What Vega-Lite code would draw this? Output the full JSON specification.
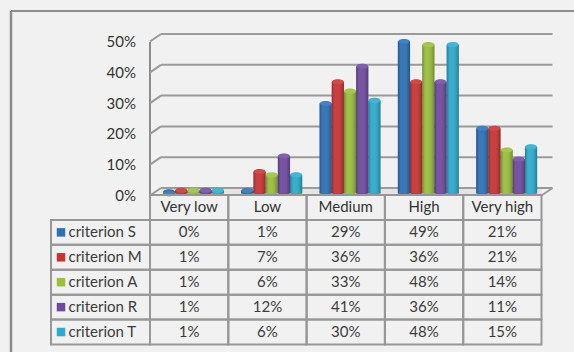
{
  "$schema": "https://vega.github.io/schema/vega-lite/v6.json",
  "width": 563,
  "height": 341,
  "autosize": "none",
  "padding": {"left": 11, "top": 11, "right": 0, "bottom": 0},
  "background": "#f1f1f1",
  "config": {"view": {"stroke": null}, "font": "Lato", "text": {"font": "Lato"}},
  "datasets": {
    "box": [{"part": "plot box"}],
    "ticks": [{"v": 0}, {"v": 0.1}, {"v": 0.2}, {"v": 0.3}, {"v": 0.4}, {"v": 0.5}],
    "levels": [{"level": "Very low"}, {"level": "Low"}, {"level": "Medium"}, {"level": "High"}, {"level": "Very high"}],
    "criteria": [{"criterion": "criterion S"}, {"criterion": "criterion M"}, {"criterion": "criterion A"}, {"criterion": "criterion R"}, {"criterion": "criterion T"}],
    "scores": [
      {"criterion": "criterion S", "level": "Very low", "share": 0},
      {"criterion": "criterion S", "level": "Low", "share": 0.01},
      {"criterion": "criterion S", "level": "Medium", "share": 0.29},
      {"criterion": "criterion S", "level": "High", "share": 0.49},
      {"criterion": "criterion S", "level": "Very high", "share": 0.21},
      {"criterion": "criterion M", "level": "Very low", "share": 0.01},
      {"criterion": "criterion M", "level": "Low", "share": 0.07},
      {"criterion": "criterion M", "level": "Medium", "share": 0.36},
      {"criterion": "criterion M", "level": "High", "share": 0.36},
      {"criterion": "criterion M", "level": "Very high", "share": 0.21},
      {"criterion": "criterion A", "level": "Very low", "share": 0.01},
      {"criterion": "criterion A", "level": "Low", "share": 0.06},
      {"criterion": "criterion A", "level": "Medium", "share": 0.33},
      {"criterion": "criterion A", "level": "High", "share": 0.48},
      {"criterion": "criterion A", "level": "Very high", "share": 0.14},
      {"criterion": "criterion R", "level": "Very low", "share": 0.01},
      {"criterion": "criterion R", "level": "Low", "share": 0.12},
      {"criterion": "criterion R", "level": "Medium", "share": 0.41},
      {"criterion": "criterion R", "level": "High", "share": 0.36},
      {"criterion": "criterion R", "level": "Very high", "share": 0.11},
      {"criterion": "criterion T", "level": "Very low", "share": 0.01},
      {"criterion": "criterion T", "level": "Low", "share": 0.06},
      {"criterion": "criterion T", "level": "Medium", "share": 0.30},
      {"criterion": "criterion T", "level": "High", "share": 0.48},
      {"criterion": "criterion T", "level": "Very high", "share": 0.15}
    ]
  },
  "resolve": {"scale": {"x": "independent", "y": "independent"}, "axis": {"x": "independent", "y": "independent"}},
  "layer": [
    {
      "description": "Frame along the top and left edges",
      "data": {"name": "box"},
      "layer": [
        {
          "mark": {"type": "rule", "color": "#8c8c8c", "strokeWidth": 2.5},
          "encoding": {
            "x": {"datum": 0, "type": "quantitative", "scale": {"domain": [0, 1], "range": [0, 563]}, "axis": null},
            "x2": {"datum": 0},
            "y": {"datum": 0, "type": "quantitative", "scale": {"domain": [0, 1], "range": [0, 341]}, "axis": null},
            "y2": {"datum": 1}
          }
        },
        {
          "mark": {"type": "rule", "color": "#8c8c8c", "strokeWidth": 2},
          "encoding": {
            "x": {"datum": 0, "type": "quantitative", "axis": null},
            "x2": {"datum": 1},
            "y": {"datum": 0, "type": "quantitative", "axis": null},
            "y2": {"datum": 0}
          }
        }
      ]
    },
    {
      "description": "Floor and walls of the plot box",
      "data": {"name": "box"},
      "layer": [
        {
          "mark": {"type": "rect", "fill": "#e4e4e4", "xOffset": 11},
          "encoding": {
            "x": {"datum": 0, "type": "quantitative", "scale": {"domain": [0, 5], "range": [139, 530.5]}, "axis": null},
            "x2": {"datum": 5},
            "y": {"datum": 0, "type": "quantitative", "scale": {"domain": [0, 0.5], "range": [184.5, 30.5]}, "axis": {"format": ".0%", "values": [0, 0.1, 0.2, 0.3, 0.4, 0.5], "offset": -138.5, "grid": false, "ticks": false, "domainColor": "#8c8c8c", "domainWidth": 2, "labelFontSize": 15, "labelColor": "#333333", "labelFont": "Lato", "labelPadding": 14, "title": null}},
            "y2": {"datum": 0.024}
          }
        },
        {
          "data": {"name": "ticks"},
          "mark": {"type": "rule", "color": "#9a9a9a", "strokeWidth": 2, "xOffset": 11, "yOffset": -7.5, "x2Offset": 11, "y2Offset": -7.5},
          "encoding": {"x": {"datum": 0, "type": "quantitative"}, "x2": {"datum": 5}, "y": {"field": "v", "type": "quantitative"}}
        },
        {
          "data": {"name": "ticks"},
          "mark": {"type": "rule", "color": "#9a9a9a", "strokeWidth": 2, "x2Offset": 11, "y2Offset": -7.5},
          "encoding": {"x": {"datum": 0, "type": "quantitative"}, "x2": {"datum": 0}, "y": {"field": "v", "type": "quantitative"}, "y2": {"field": "v"}}
        },
        {
          "mark": {"type": "rule", "color": "#9a9a9a", "strokeWidth": 2, "x2Offset": 11, "y2Offset": -7.5},
          "encoding": {"x": {"datum": 5, "type": "quantitative"}, "x2": {"datum": 5}, "y": {"datum": 0, "type": "quantitative"}, "y2": {"datum": 0}}
        }
      ]
    },
    {
      "description": "Cylinder columns: a shaft with an ellipse at each end, shaded by translucent gradients",
      "data": {"name": "scores"},
      "encoding": {
        "x": {"field": "level", "type": "nominal", "sort": null, "axis": null, "scale": {"domain": ["Very low", "Low", "Medium", "High", "Very high"], "range": [143.3, 534.8], "paddingInner": 0, "paddingOuter": 0}},
        "xOffset": {"field": "criterion", "type": "nominal", "scale": {"domain": ["criterion S", "criterion M", "criterion A", "criterion R", "criterion T"], "paddingInner": 0, "paddingOuter": 0.71}}
      },
      "layer": [
        {
          "mark": {"type": "point", "filled": true, "opacity": 1, "size": 144, "yOffset": -1.5, "shape": "M-1,0A1,0.45 0 1 1 1,0A1,0.45 0 1 1 -1,0Z"},
          "encoding": {
            "y": {"datum": 0, "type": "quantitative", "scale": {"domain": [0, 0.5], "range": [182.5, 27.5]}, "axis": null},
            "color": {"field": "criterion", "type": "nominal", "legend": null, "scale": {"domain": ["criterion S", "criterion M", "criterion A", "criterion R", "criterion T"], "range": ["#2c70b8", "#c93332", "#9abf3b", "#7049a0", "#2bacce"]}}
          }
        },
        {
          "mark": {"type": "bar", "y2Offset": -1.5},
          "encoding": {
            "y": {"field": "share", "type": "quantitative", "axis": null},
            "color": {"field": "criterion", "type": "nominal", "legend": null}
          }
        },
        {
          "mark": {"type": "bar", "y2Offset": -1.5, "fill": {"gradient": "linear", "x1": 0, "x2": 1, "y1": 0, "y2": 0, "stops": [{"offset": 0, "color": "rgba(0,0,0,0.3)"}, {"offset": 0.38, "color": "rgba(255,255,255,0.04)"}, {"offset": 1, "color": "rgba(0,0,0,0.28)"}]}},
          "encoding": {"y": {"field": "share", "type": "quantitative", "axis": null}}
        },
        {
          "mark": {"type": "point", "filled": true, "opacity": 1, "size": 144, "shape": "M-1,0A1,0.45 0 1 1 1,0A1,0.45 0 1 1 -1,0Z"},
          "encoding": {
            "y": {"field": "share", "type": "quantitative", "axis": null},
            "color": {"field": "criterion", "type": "nominal", "legend": null}
          }
        },
        {
          "mark": {"type": "point", "filled": true, "opacity": 0.12, "size": 120, "color": "#ffffff", "shape": "M-1,0A1,0.45 0 1 1 1,0A1,0.45 0 1 1 -1,0Z"},
          "encoding": {"y": {"field": "share", "type": "quantitative", "axis": null}}
        }
      ]
    },
    {
      "description": "Data table under the columns",
      "encoding": {
        "x": {"field": "level", "type": "nominal", "sort": null, "axis": null, "scale": {"domain": ["Very low", "Low", "Medium", "High", "Very high"], "range": [139, 530.5], "paddingInner": 0, "paddingOuter": 0}}
      },
      "layer": [
        {
          "data": {"name": "scores"},
          "mark": {"type": "rect", "fill": null, "stroke": "#979797", "strokeWidth": 2},
          "encoding": {"y": {"field": "criterion", "type": "nominal", "axis": null, "scale": {"domain": ["header", "criterion S", "criterion M", "criterion A", "criterion R", "criterion T"], "range": [184, 333.5], "paddingInner": 0, "paddingOuter": 0}}}
        },
        {
          "data": {"name": "levels"},
          "mark": {"type": "rect", "fill": null, "stroke": "#979797", "strokeWidth": 2},
          "encoding": {"y": {"datum": "header", "type": "nominal", "axis": null}}
        },
        {
          "data": {"name": "levels"},
          "mark": {"type": "text", "fontSize": 15, "color": "#333333", "baseline": "middle"},
          "encoding": {"y": {"datum": "header", "type": "nominal", "axis": null}, "text": {"field": "level", "type": "nominal"}}
        },
        {
          "data": {"name": "scores"},
          "mark": {"type": "text", "fontSize": 15, "color": "#3c3c3c", "baseline": "middle"},
          "encoding": {"y": {"field": "criterion", "type": "nominal", "axis": null}, "text": {"field": "share", "type": "quantitative", "format": ".0%"}}
        }
      ]
    },
    {
      "description": "Row headers with colour keys",
      "data": {"name": "criteria"},
      "encoding": {
        "x": {"datum": "key", "type": "nominal", "axis": null, "scale": {"domain": ["key"], "range": [40, 139], "paddingInner": 0, "paddingOuter": 0}},
        "y": {"field": "criterion", "type": "nominal", "axis": null, "scale": {"domain": ["header", "criterion S", "criterion M", "criterion A", "criterion R", "criterion T"], "range": [184, 333.5], "paddingInner": 0, "paddingOuter": 0}}
      },
      "layer": [
        {
          "mark": {"type": "rect", "fill": null, "stroke": "#979797", "strokeWidth": 2}
        },
        {
          "mark": {"type": "point", "shape": "square", "filled": true, "opacity": 1, "size": 72, "xOffset": -39.5},
          "encoding": {"color": {"field": "criterion", "type": "nominal", "legend": null}}
        },
        {
          "mark": {"type": "text", "fontSize": 15, "color": "#3c3c3c", "align": "left", "baseline": "middle", "dx": -32},
          "encoding": {"text": {"field": "criterion", "type": "nominal"}}
        }
      ]
    }
  ]
}
